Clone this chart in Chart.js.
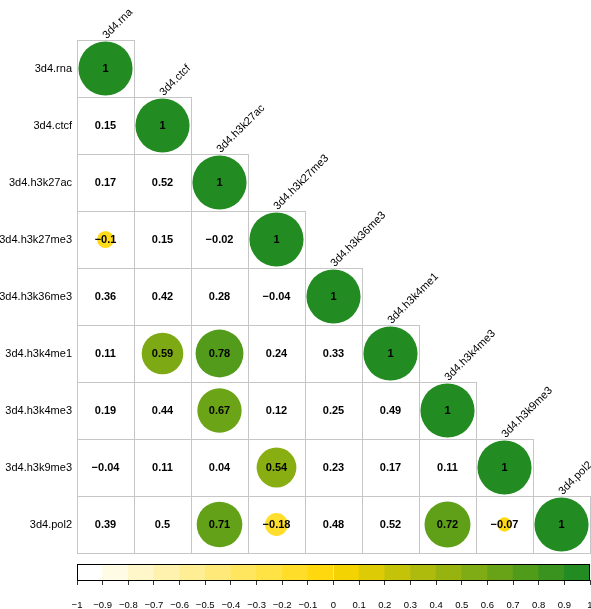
<!DOCTYPE html>
<html>
<head>
<meta charset="utf-8">
<script src="https://cdn.jsdelivr.net/npm/chart.js@4"></script>
<style>
  html, body { margin: 0; padding: 0; background: #fff; }
  #wrap { position: relative; width: 591px; height: 609px; }
  #corrBox { position: absolute; left: 0; top: 0; width: 591px; height: 556px; }
  #barBox { position: absolute; left: 0; top: 556px; width: 591px; height: 53px; }
</style>
</head>
<body>
<div id="wrap">
  <div id="corrBox"><canvas id="corrChart"></canvas></div>
  <div id="barBox"><canvas id="colorBar"></canvas></div>
</div>
<script>
const variables = ['3d4.rna', '3d4.ctcf', '3d4.h3k27ac', '3d4.h3k27me3', '3d4.h3k36me3',
                   '3d4.h3k4me1', '3d4.h3k4me3', '3d4.h3k9me3', '3d4.pol2'];

// lower triangle of the correlation matrix, row by row
const corrRows = [
    [1],
    [0.15, 1],
    [0.17, 0.52, 1],
    [-0.1, 0.15, -0.02, 1],
    [0.36, 0.42, 0.28, -0.04, 1],
    [0.11, 0.59, 0.78, 0.24, 0.33, 1],
    [0.19, 0.44, 0.67, 0.12, 0.25, 0.49, 1],
    [-0.04, 0.11, 0.04, 0.54, 0.23, 0.17, 0.11, 1],
    [0.39, 0.5, 0.71, -0.18, 0.48, 0.52, 0.72, -0.07, 1]
];

// which cells get a circle (1) and which only show the number (0)
const showCircle = [
    [1],
    [0, 1],
    [0, 0, 1],
    [1, 0, 0, 1],
    [0, 0, 0, 0, 1],
    [0, 1, 1, 0, 0, 1],
    [0, 0, 1, 0, 0, 0, 1],
    [0, 0, 0, 1, 0, 0, 0, 1],
    [0, 0, 1, 1, 0, 0, 1, 1, 1]
];

const colorbarTicks = [-1, -0.9, -0.8, -0.7, -0.6, -0.5, -0.4, -0.3, -0.2, -0.1, 0,
                       0.1, 0.2, 0.3, 0.4, 0.5, 0.6, 0.7, 0.8, 0.9, 1];

const FONT = '"Liberation Sans", Arial, Helvetica, sans-serif';
const lowColor = [255, 255, 255];
const midColor = [255, 215, 0];
const highColor = [34, 139, 34];

function corrColor(v) {
    let a, b, t;
    if (v < 0) { a = lowColor; b = midColor; t = v + 1; }
    else { a = midColor; b = highColor; t = v; }
    const c = a.map((x, i) => Math.round(x + (b[i] - x) * t));
    return 'rgb(' + c.join(',') + ')';
}

function fmt(v) {
    const r = Math.round(v * 100) / 100;
    return String(r).replace('-', '\u2212');
}

const points = [];
corrRows.forEach((row, i) => row.forEach((v, j) => {
    if (showCircle[i][j]) points.push({ x: j + 1, y: i + 1, v: v });
}));

const corrDecor = {
    id: 'corrDecor',
    beforeDatasetsDraw(chart) {
        const { ctx, scales: { x, y } } = chart;
        ctx.save();
        ctx.strokeStyle = '#c6c6c6';
        ctx.lineWidth = 1;
        corrRows.forEach((row, i) => row.forEach((v, j) => {
            const l = Math.round(x.getPixelForValue(j + 0.5)) + 0.5;
            const r = Math.round(x.getPixelForValue(j + 1.5)) + 0.5;
            const t = Math.round(y.getPixelForValue(i + 0.5)) + 0.5;
            const b = Math.round(y.getPixelForValue(i + 1.5)) + 0.5;
            ctx.strokeRect(l, t, r - l, b - t);
        }));
        ctx.restore();
    },
    afterDatasetsDraw(chart) {
        const { ctx, scales: { x, y } } = chart;
        ctx.save();
        ctx.fillStyle = '#000';

        // numbers in the cells
        ctx.font = 'bold 11px ' + FONT;
        ctx.textAlign = 'center';
        ctx.textBaseline = 'middle';
        corrRows.forEach((row, i) => row.forEach((v, j) => {
            ctx.fillText(fmt(v), x.getPixelForValue(j + 1), y.getPixelForValue(i + 1) + 0.5);
        }));

        // row labels
        ctx.font = '11px ' + FONT;
        ctx.textAlign = 'right';
        variables.forEach((name, i) => {
            ctx.fillText(name, x.getPixelForValue(0.5) - 5, y.getPixelForValue(i + 1) + 0.5);
        });

        // column labels, tilted over the diagonal
        ctx.textAlign = 'left';
        variables.forEach((name, j) => {
            const cx = x.getPixelForValue(j + 1) - 1;
            const cy = y.getPixelForValue(j + 0.5) - 3;
            ctx.save();
            ctx.translate(cx, cy);
            ctx.rotate(-Math.PI / 4);
            ctx.fillText(name, 0, 0);
            ctx.restore();
        });
        ctx.restore();
    }
};

new Chart(document.getElementById('corrChart'), {
    type: 'scatter',
    data: {
        datasets: [{
            data: points,
            backgroundColor: ctx => ctx.raw ? corrColor(ctx.raw.v) : '#000',
            borderWidth: 0,
            pointBorderWidth: 0,
            pointHoverRadius: 0,
            pointRadius: ctx => {
                if (!ctx.raw) return 0;
                const s = ctx.chart.scales.x;
                const cell = s.getPixelForValue(1) - s.getPixelForValue(0);
                return Math.sqrt(Math.abs(ctx.raw.v)) * 0.475 * cell;
            }
        }]
    },
    options: {
        responsive: true,
        maintainAspectRatio: false,
        animation: false,
        layout: { padding: { left: 77, top: 40, right: 1, bottom: 3 } },
        plugins: { legend: { display: false }, tooltip: { enabled: false } },
        scales: {
            x: { type: 'linear', min: 0.5, max: 9.5, display: false },
            y: { type: 'linear', min: 0.5, max: 9.5, reverse: true, display: false }
        }
    },
    plugins: [corrDecor]
});

// colour legend underneath
const bins = colorbarTicks.slice(0, -1).map((lo, k) => ({ x: [lo, colorbarTicks[k + 1]], y: 'bar' }));

const barBorder = {
    id: 'barBorder',
    afterDatasetsDraw(chart) {
        const { ctx, chartArea: a } = chart;
        ctx.save();
        ctx.strokeStyle = '#000';
        ctx.lineWidth = 1;
        ctx.strokeRect(Math.round(a.left) + 0.5, Math.round(a.top) + 0.5,
                       Math.round(a.right - a.left) - 1, Math.round(a.bottom - a.top));
        ctx.restore();
    }
};

new Chart(document.getElementById('colorBar'), {
    type: 'bar',
    data: {
        labels: ['bar'],
        datasets: [{
            data: bins,
            backgroundColor: bins.map((b, k) => corrColor(-1 + 2 * k / (bins.length - 1))),
            borderWidth: 0,
            barPercentage: 1,
            categoryPercentage: 1
        }]
    },
    options: {
        indexAxis: 'y',
        responsive: true,
        maintainAspectRatio: false,
        animation: false,
        layout: { padding: { left: 77, top: 8, right: 1, bottom: 0 } },
        plugins: { legend: { display: false }, tooltip: { enabled: false } },
        scales: {
            x: {
                type: 'linear',
                min: -1,
                max: 1,
                afterBuildTicks: s => { s.ticks = colorbarTicks.map(v => ({ value: v })); },
                afterFit: s => { s.height = 29; s.paddingLeft = 0; s.paddingRight = 0; },
                grid: { drawOnChartArea: false, tickLength: 5, color: '#333' },
                border: { display: false },
                ticks: {
                    font: { size: 9.5, family: FONT },
                    color: '#000',
                    padding: 15,
                    maxRotation: 0,
                    autoSkip: false,
                    callback: v => fmt(v)
                }
            },
            y: { display: false }
        }
    },
    plugins: [barBorder]
});
</script>
</body>
</html>
